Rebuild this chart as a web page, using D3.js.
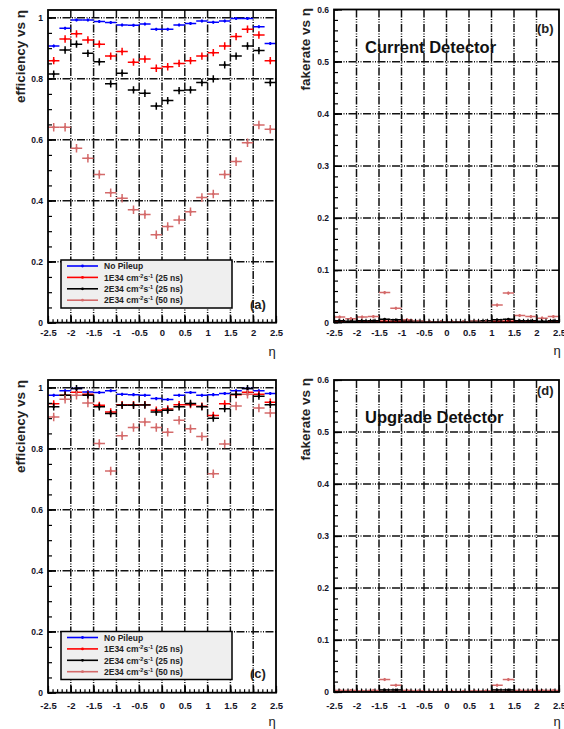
<!DOCTYPE html>
<html>
<head>
<meta charset="utf-8">
<script src="https://cdn.jsdelivr.net/npm/d3@7"></script>
<style>
  body { margin: 0; background: #fff; }
  svg text { font-family: "Liberation Sans", Arial, Helvetica, sans-serif; }
</style>
</head>
<body>
<svg id="fig" width="564" height="729"></svg>
<script>
// eta bin centres (bin width 0.25)
const etaBins = [-2.375, -2.125, -1.875, -1.625, -1.375, -1.125, -0.875, -0.625, -0.375, -0.125,
                 0.125, 0.375, 0.625, 0.875, 1.125, 1.375, 1.625, 1.875, 2.125, 2.375];
const binHalf = 0.125;

const seriesColors = ["#0000ff", "#ff0000", "#000000", "#d46a6a"];
const legendLabels = [
  [["No Pileup", false]],
  [["1E34 cm", false], ["-2", true], ["s", false], ["-1", true], [" (25 ns)", false]],
  [["2E34 cm", false], ["-2", true], ["s", false], ["-1", true], [" (25 ns)", false]],
  [["2E34 cm", false], ["-2", true], ["s", false], ["-1", true], [" (50 ns)", false]]
];

// (a) efficiency, current detector
const effA_noPU = [0.907, 0.965, 0.992, 0.992, 0.987, 0.984, 0.976, 0.975, 0.979, 0.962,
                   0.962, 0.976, 0.981, 0.989, 0.985, 0.989, 0.997, 0.997, 0.970, 0.915];
const effA_1E34 = [0.859, 0.930, 0.947, 0.927, 0.913, 0.874, 0.889, 0.854, 0.864, 0.834,
                   0.839, 0.850, 0.859, 0.874, 0.885, 0.907, 0.938, 0.962, 0.943, 0.859];
const effA_2E34 = [0.815, 0.894, 0.913, 0.883, 0.855, 0.783, 0.818, 0.763, 0.752, 0.710,
                   0.728, 0.761, 0.763, 0.787, 0.799, 0.845, 0.874, 0.907, 0.892, 0.787];
const effA_50ns = [0.641, 0.641, 0.572, 0.539, 0.486, 0.426, 0.408, 0.370, 0.355, 0.288,
                   0.315, 0.337, 0.364, 0.410, 0.422, 0.486, 0.528, 0.590, 0.648, 0.634];

// (b) fake rate, current detector
const fakeB_noPU = [0, 0, 0, 0, 0, 0, 0, 0, 0, 0, 0, 0, 0, 0, 0, 0, 0, 0, 0, 0];
const fakeB_1E34 = [0.001, 0.001, 0.001, 0.001, 0.002, 0.002, 0.001, 0.001, 0, 0,
                    0, 0, 0.001, 0.001, 0.002, 0.002, 0.001, 0.001, 0.001, 0.001];
const fakeB_2E34 = [0.003, 0.002, 0.003, 0.003, 0.006, 0.005, 0.003, 0.002, 0.001, 0.001,
                    0.001, 0.001, 0.002, 0.003, 0.005, 0.006, 0.003, 0.003, 0.002, 0.003];
const fakeB_50ns = [0.010, 0.007, 0.010, 0.011, 0.057, 0.027, 0.005, 0.002, 0.001, 0.001,
                    0.001, 0.001, 0.002, 0.001, 0.033, 0.056, 0.013, 0.011, 0.008, 0.011];

// (c) efficiency, upgrade detector
const effC_noPU = [0.975, 0.990, 0.997, 0.986, 0.984, 0.990, 0.978, 0.977, 0.975, 0.964,
                   0.961, 0.975, 0.984, 0.975, 0.977, 0.981, 0.990, 0.997, 0.990, 0.981];
const effC_1E34 = [0.947, 0.975, 0.985, 0.978, 0.942, 0.920, 0.944, 0.944, 0.944, 0.926,
                   0.930, 0.944, 0.944, 0.939, 0.909, 0.947, 0.977, 0.985, 0.978, 0.952];
const effC_2E34 = [0.937, 0.975, 0.997, 0.975, 0.937, 0.915, 0.942, 0.942, 0.943, 0.920,
                   0.926, 0.937, 0.948, 0.937, 0.900, 0.931, 0.978, 0.997, 0.972, 0.944];
const effC_50ns = [0.904, 0.962, 0.975, 0.950, 0.817, 0.727, 0.842, 0.869, 0.887, 0.869,
                   0.854, 0.893, 0.865, 0.840, 0.718, 0.815, 0.940, 0.978, 0.933, 0.917];

// (d) fake rate, upgrade detector
const fakeD_noPU = [0, 0, 0, 0, 0, 0, 0, 0, 0, 0, 0, 0, 0, 0, 0, 0, 0, 0, 0, 0];
const fakeD_1E34 = [0, 0, 0, 0, 0.001, 0.001, 0, 0, 0, 0, 0, 0, 0, 0, 0.001, 0.001, 0, 0, 0, 0];
const fakeD_2E34 = [0.001, 0.001, 0.001, 0.001, 0.004, 0.004, 0.001, 0, 0, 0,
                    0, 0, 0, 0.001, 0.004, 0.004, 0.001, 0.001, 0.001, 0.001];
const fakeD_50ns = [0.003, 0.003, 0.002, 0.003, 0.024, 0.013, 0.003, 0.002, 0.001, 0.001,
                    0.001, 0.001, 0.002, 0.002, 0.013, 0.024, 0.003, 0.003, 0.003, 0.003];

const effErr = [0.005, 0.012, 0.012, 0.014];
const fakeErr = [0.001, 0.002, 0.002, 0.003];

const xTicks = [-2.5, -2, -1.5, -1, -0.5, 0, 0.5, 1, 1.5, 2, 2.5];

const panels = [
  { tag: "(a)", left: 48, right: 276, top: 10, bottom: 322.7, yMax: 1.025,
    yMajor: [0, 0.2, 0.4, 0.6, 0.8, 1], yMinorStep: 0.05, yLabel: "efficiency vs \u03b7",
    series: [effA_noPU, effA_1E34, effA_2E34, effA_50ns], err: effErr, legend: { x: 61, y: 260 },
    tagPos: [250, 309], titlePos: [25, 10], etaPos: [272, 356], tickLabelY: 336.5 },
  { tag: "(b)", left: 334, right: 559, top: 9.5, bottom: 322.3, yMax: 0.6,
    yMajor: [0, 0.1, 0.2, 0.3, 0.4, 0.5, 0.6], yMinorStep: 0.02, yLabel: "fakerate vs \u03b7",
    series: [fakeB_noPU, fakeB_1E34, fakeB_2E34, fakeB_50ns], err: fakeErr,
    text: "Current Detector", textPos: [365, 53],
    tagPos: [537, 33], titlePos: [310, 8], etaPos: [557, 355], tickLabelY: 336.5 },
  { tag: "(c)", left: 48, right: 276, top: 380, bottom: 692.7, yMax: 1.025,
    yMajor: [0, 0.2, 0.4, 0.6, 0.8, 1], yMinorStep: 0.05, yLabel: "efficiency vs \u03b7",
    series: [effC_noPU, effC_1E34, effC_2E34, effC_50ns], err: effErr, legend: { x: 61, y: 631.5 },
    tagPos: [250, 678], titlePos: [25, 380], etaPos: [272, 726], tickLabelY: 709 },
  { tag: "(d)", left: 334, right: 559, top: 380, bottom: 692, yMax: 0.6,
    yMajor: [0, 0.1, 0.2, 0.3, 0.4, 0.5, 0.6], yMinorStep: 0.02, yLabel: "fakerate vs \u03b7",
    series: [fakeD_noPU, fakeD_1E34, fakeD_2E34, fakeD_50ns], err: fakeErr,
    text: "Upgrade Detector", textPos: [365, 423],
    tagPos: [537, 395], titlePos: [310, 378], etaPos: [557, 726], tickLabelY: 709 }
];

const svg = d3.select("#fig");
const gridDash = "8,1.5,1,1.5,1,1.5";

panels.forEach((p, pi) => {
  const x = d3.scaleLinear().domain([-2.5, 2.5]).range([p.left, p.right]);
  const y = d3.scaleLinear().domain([0, p.yMax]).range([p.bottom, p.top]);
  const g = svg.append("g");

  const clipId = `clip_${pi}`;
  g.append("clipPath").attr("id", clipId)
    .append("rect")
    .attr("x", p.left).attr("y", p.top)
    .attr("width", p.right - p.left).attr("height", p.bottom - p.top);

  // grid
  g.append("g").selectAll("line")
    .data(xTicks.slice(1, -1))
    .join("line")
    .attr("x1", d => x(d)).attr("x2", d => x(d))
    .attr("y1", p.top).attr("y2", p.bottom)
    .attr("stroke", "#111").attr("stroke-width", 1.5)
    .attr("stroke-dasharray", gridDash);

  g.append("g").selectAll("line")
    .data(p.yMajor.filter(d => d > 0 && y(d) > p.top + 1))
    .join("line")
    .attr("x1", p.left).attr("x2", p.right)
    .attr("y1", d => y(d)).attr("y2", d => y(d))
    .attr("stroke", "#111").attr("stroke-width", 1.5)
    .attr("stroke-dasharray", gridDash);

  // data
  const data = g.append("g").attr("clip-path", `url(#${clipId})`);
  p.series.forEach((vals, si) => {
    const color = seriesColors[si];
    const e = p.err[si];
    const s = data.append("g").attr("stroke", color).attr("stroke-width", 1.5);
    s.selectAll("line.h")
      .data(vals)
      .join("line")
      .attr("class", "h")
      .attr("x1", (d, i) => x(etaBins[i] - binHalf))
      .attr("x2", (d, i) => x(etaBins[i] + binHalf))
      .attr("y1", d => y(d)).attr("y2", d => y(d));
    s.selectAll("line.v")
      .data(vals)
      .join("line")
      .attr("class", "v")
      .attr("x1", (d, i) => x(etaBins[i]))
      .attr("x2", (d, i) => x(etaBins[i]))
      .attr("y1", d => y(d - e)).attr("y2", d => y(d + e));
    s.selectAll("circle")
      .data(vals)
      .join("circle")
      .attr("cx", (d, i) => x(etaBins[i]))
      .attr("cy", d => y(d))
      .attr("r", 1.3)
      .attr("fill", color).attr("stroke", "none");
  });

  // axes
  const minorX = d3.range(-25, 26).map(d => d / 10);
  g.append("g")
    .attr("transform", `translate(0,${p.bottom})`)
    .call(d3.axisBottom(x).tickValues(minorX).tickSize(-3.5).tickFormat(""))
    .call(a => a.select(".domain").remove())
    .call(a => a.selectAll(".tick line").attr("stroke-width", 1.2));

  g.append("g")
    .attr("transform", `translate(0,${p.bottom})`)
    .call(d3.axisBottom(x).tickValues(xTicks).tickSize(-7).tickPadding(8)
      .tickFormat(d => d3.format("")(d).replace("\u2212", "-")))
    .call(a => a.select(".domain").remove())
    .call(a => a.selectAll(".tick line").attr("stroke-width", 1.2))
    .call(a => a.selectAll(".tick text")
      .attr("y", p.tickLabelY - p.bottom).attr("dy", null)
      .style("font-size", "9.5px").style("font-weight", "bold").attr("fill", "#141428"));

  const nMinor = Math.round(p.yMax / p.yMinorStep);
  const minorY = d3.range(0, nMinor + 1).map(d => +(d * p.yMinorStep).toFixed(3)).filter(d => d <= p.yMax);
  g.append("g")
    .attr("transform", `translate(${p.left},0)`)
    .call(d3.axisLeft(y).tickValues(minorY).tickSize(-4).tickFormat(""))
    .call(a => a.select(".domain").remove())
    .call(a => a.selectAll(".tick line").attr("stroke-width", 1.2));

  g.append("g")
    .attr("transform", `translate(${p.left},0)`)
    .call(d3.axisLeft(y).tickValues(p.yMajor).tickSize(-8).tickPadding(5).tickFormat(d3.format("")))
    .call(a => a.select(".domain").remove())
    .call(a => a.selectAll(".tick line").attr("stroke-width", 1.2))
    .call(a => a.selectAll(".tick text")
      .style("font-size", "8.5px").style("font-weight", "bold").attr("fill", "#141428"));

  // frame
  g.append("rect")
    .attr("x", p.left).attr("y", p.top)
    .attr("width", p.right - p.left).attr("height", p.bottom - p.top)
    .attr("fill", "none").attr("stroke", "#000").attr("stroke-width", 1.8);

  // titles
  g.append("text")
    .attr("transform", `translate(${p.titlePos[0]},${p.titlePos[1]}) rotate(-90)`)
    .attr("text-anchor", "end")
    .style("font-size", "13.5px").style("font-weight", "bold").attr("fill", "#222")
    .text(p.yLabel);

  g.append("text")
    .attr("x", p.etaPos[0]).attr("y", p.etaPos[1])
    .attr("text-anchor", "middle")
    .style("font-size", "13px").attr("fill", "#222")
    .text("\u03b7");

  g.append("text")
    .attr("x", p.tagPos[0]).attr("y", p.tagPos[1])
    .style("font-size", "13px").style("font-weight", "bold").attr("fill", "#222")
    .text(p.tag);

  if (p.text) {
    g.append("text")
      .attr("x", p.textPos[0]).attr("y", p.textPos[1])
      .style("font-size", "16.5px").style("font-weight", "bold").attr("fill", "#111")
      .text(p.text);
  }

  // legend
  if (p.legend) {
    const lg = g.append("g").attr("transform", `translate(${p.legend.x},${p.legend.y})`);
    lg.append("rect")
      .attr("width", 171).attr("height", 48)
      .attr("fill", "#efefef").attr("stroke", "#000").attr("stroke-width", 1.5);
    legendLabels.forEach((parts, i) => {
      const ry = 6 + i * 11.4;
      lg.append("line")
        .attr("x1", 6).attr("x2", 37).attr("y1", ry).attr("y2", ry)
        .attr("stroke", seriesColors[i]).attr("stroke-width", 1.6);
      lg.append("circle").attr("cx", 21.5).attr("cy", ry).attr("r", 1.4).attr("fill", seriesColors[i]);
      const t = lg.append("text").attr("x", 43).attr("y", ry + 3.2)
        .style("font-size", "8.5px").style("font-weight", "bold").attr("fill", "#222");
      parts.forEach(([str, sup], k) => {
        const ts = t.append("tspan").text(str);
        const prevSup = k > 0 && parts[k - 1][1];
        if (sup && !prevSup) ts.attr("dy", -3);
        if (!sup && prevSup) ts.attr("dy", 3);
        if (sup) ts.style("font-size", "5.5px");
      });
    });
  }
});
</script>
</body>
</html>
